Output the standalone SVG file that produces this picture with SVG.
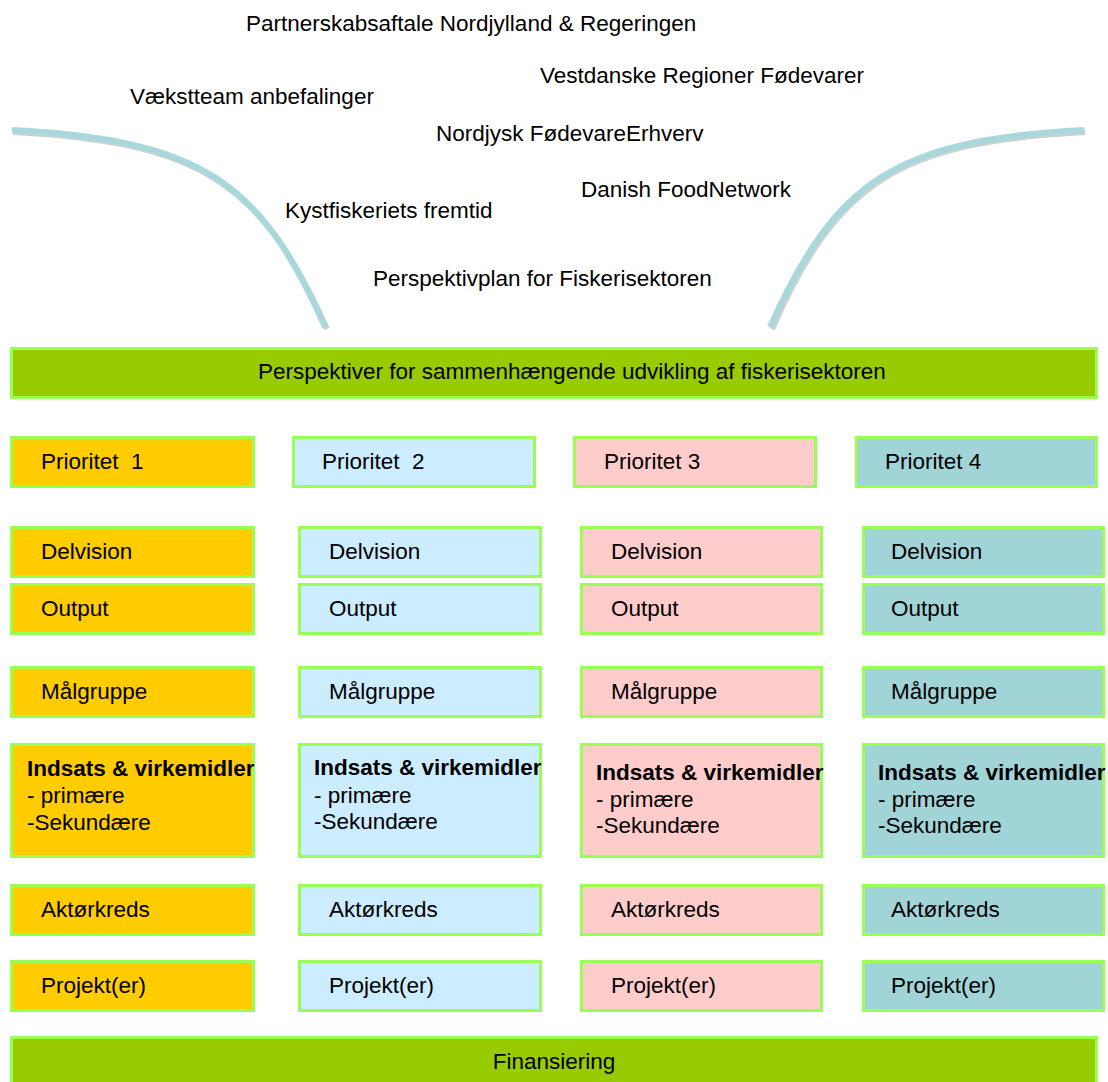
<svg xmlns="http://www.w3.org/2000/svg" width="1108" height="1082" viewBox="0 0 1108 1082">
<style>
text{font-family:"Liberation Sans",Arial,sans-serif;font-size:22.5px;fill:#000}
.b{stroke:#99FF55;stroke-width:3}
.c1{fill:#FFCC00}.c2{fill:#CCECFF}.c3{fill:#FFCCCC}.c4{fill:#A0D4D7}.g{fill:#99CC00}
.bold{font-weight:bold}
.curve{fill:none;stroke:#A8D8DC;stroke-width:6;stroke-linecap:butt}
.shadow{fill:none;stroke:#8a9a9c;stroke-opacity:.45;stroke-width:6}
</style>
<rect width="1108" height="1082" fill="#fff"/>
<g id="labels">
<text x="246" y="31">Partnerskabsaftale Nordjylland &amp; Regeringen</text>
<text x="540" y="83">Vestdanske Regioner Fødevarer</text>
<text x="130" y="104">Vækstteam anbefalinger</text>
<text x="436" y="141">Nordjysk FødevareErhverv</text>
<text x="581" y="197">Danish FoodNetwork</text>
<text x="285" y="218">Kystfiskeriets fremtid</text>
<text x="373" y="286">Perspektivplan for Fiskerisektoren</text>
</g>
<g id="connectors">
<path class="shadow" d="M13,132 C201,142 261,182 327,329"/>
<path class="shadow" d="M1085,132 C897,142 837,182 772,329"/>
<path class="curve" d="M12,130 C200,140 260,180 325,327"/>
<path class="curve" d="M1084,130 C896,140 836,180 770,327"/>
</g>
<g id="top-bar"><rect class="g b" x="11.5" y="348.5" width="1085" height="49"/><text x="258" y="379">Perspektiver for sammenhængende udvikling af fiskerisektoren</text></g>
<g id="p1"><rect class="c1 b" x="11.5" y="437.5" width="242" height="49"/><text x="41" y="469">Prioritet&#160; 1</text></g>
<g id="p2"><rect class="c2 b" x="293.5" y="437.5" width="241" height="49"/><text x="322" y="469">Prioritet&#160; 2</text></g>
<g id="p3"><rect class="c3 b" x="574.5" y="437.5" width="241" height="49"/><text x="604" y="469">Prioritet 3</text></g>
<g id="p4"><rect class="c4 b" x="856.5" y="437.5" width="240" height="49"/><text x="885" y="469">Prioritet 4</text></g>

<g id="d1"><rect class="c1 b" x="11.5" y="527.5" width="242" height="49"/><text x="41" y="559">Delvision</text></g>
<g id="d2"><rect class="c2 b" x="299.5" y="527.5" width="241" height="49"/><text x="329" y="559">Delvision</text></g>
<g id="d3"><rect class="c3 b" x="581.5" y="527.5" width="240" height="49"/><text x="611" y="559">Delvision</text></g>
<g id="d4"><rect class="c4 b" x="863.5" y="527.5" width="240" height="49"/><text x="891" y="559">Delvision</text></g>

<g id="o1"><rect class="c1 b" x="11.5" y="584.5" width="242" height="49"/><text x="41" y="616">Output</text></g>
<g id="o2"><rect class="c2 b" x="299.5" y="584.5" width="241" height="49"/><text x="329" y="616">Output</text></g>
<g id="o3"><rect class="c3 b" x="581.5" y="584.5" width="240" height="49"/><text x="611" y="616">Output</text></g>
<g id="o4"><rect class="c4 b" x="863.5" y="584.5" width="240" height="49"/><text x="891" y="616">Output</text></g>

<g id="m1"><rect class="c1 b" x="11.5" y="667.5" width="242" height="49"/><text x="41" y="699">Målgruppe</text></g>
<g id="m2"><rect class="c2 b" x="299.5" y="667.5" width="241" height="49"/><text x="329" y="699">Målgruppe</text></g>
<g id="m3"><rect class="c3 b" x="581.5" y="667.5" width="240" height="49"/><text x="611" y="699">Målgruppe</text></g>
<g id="m4"><rect class="c4 b" x="863.5" y="667.5" width="240" height="49"/><text x="891" y="699">Målgruppe</text></g>

<g id="i1"><rect class="c1 b" x="11.5" y="744.5" width="242" height="112"/><text x="27" y="776"><tspan class="bold">Indsats &amp; virkemidler</tspan><tspan x="27" y="803">- primære</tspan><tspan x="27" y="830">-Sekundære</tspan></text></g>
<g id="i2"><rect class="c2 b" x="299.5" y="744.5" width="241" height="112"/><text x="314" y="775"><tspan class="bold">Indsats &amp; virkemidler</tspan><tspan x="314" y="803">- primære</tspan><tspan x="314" y="829">-Sekundære</tspan></text></g>
<g id="i3"><rect class="c3 b" x="581.5" y="744.5" width="240" height="112"/><text x="596" y="780"><tspan class="bold">Indsats &amp; virkemidler</tspan><tspan x="596" y="807">- primære</tspan><tspan x="596" y="833">-Sekundære</tspan></text></g>
<g id="i4"><rect class="c4 b" x="863.5" y="744.5" width="240" height="112"/><text x="878" y="780"><tspan class="bold">Indsats &amp; virkemidler</tspan><tspan x="878" y="807">- primære</tspan><tspan x="878" y="833">-Sekundære</tspan></text></g>

<g id="a1"><rect class="c1 b" x="11.5" y="885.5" width="242" height="49"/><text x="41" y="917">Aktørkreds</text></g>
<g id="a2"><rect class="c2 b" x="299.5" y="885.5" width="241" height="49"/><text x="329" y="917">Aktørkreds</text></g>
<g id="a3"><rect class="c3 b" x="581.5" y="885.5" width="240" height="49"/><text x="611" y="917">Aktørkreds</text></g>
<g id="a4"><rect class="c4 b" x="863.5" y="885.5" width="240" height="49"/><text x="891" y="917">Aktørkreds</text></g>

<g id="pr1"><rect class="c1 b" x="11.5" y="961.5" width="242" height="49"/><text x="41" y="993">Projekt(er)</text></g>
<g id="pr2"><rect class="c2 b" x="299.5" y="961.5" width="241" height="49"/><text x="329" y="993">Projekt(er)</text></g>
<g id="pr3"><rect class="c3 b" x="581.5" y="961.5" width="240" height="49"/><text x="611" y="993">Projekt(er)</text></g>
<g id="pr4"><rect class="c4 b" x="863.5" y="961.5" width="240" height="49"/><text x="891" y="993">Projekt(er)</text></g>

<g id="finansiering"><rect class="g b" x="11.5" y="1037.5" width="1085" height="49"/><text x="554" y="1069" text-anchor="middle">Finansiering</text></g>
</svg>
